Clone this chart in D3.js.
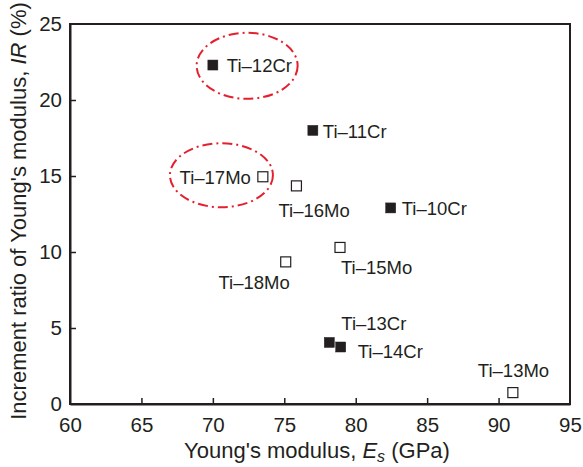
<!DOCTYPE html>
<html><head><meta charset="utf-8">
<script src="https://cdn.jsdelivr.net/npm/d3@7/dist/d3.min.js"></script>
<style>
html,body{margin:0;padding:0;background:#fff;}
svg{display:block;font-family:"Liberation Sans",Arial,Helvetica,sans-serif;}
</style></head>
<body>
<svg id="chart" width="583" height="467"></svg>
<script>
// ---- data ----
const alloys    = ["Ti–12Cr","Ti–11Cr","Ti–10Cr","Ti–13Cr","Ti–14Cr","Ti–17Mo","Ti–16Mo","Ti–18Mo","Ti–15Mo","Ti–13Mo"];
const alloyType = ["Cr","Cr","Cr","Cr","Cr","Mo","Mo","Mo","Mo","Mo"];
const modulusEs = [70.0, 77.0, 82.45, 78.15, 78.95, 73.5, 75.85, 75.1, 78.9, 91.0];
const incrementIR = [22.3, 18.0, 12.9, 4.05, 3.75, 14.95, 14.35, 9.35, 10.3, 0.75];
const xTicks = [60,65,70,75,80,85,90,95];
const yTicks = [0,5,10,15,20,25];
const highlightX = [72.4, 70.6];
const highlightY = [22.25, 15.05];

// ---- layout (label offsets in px relative to marker) ----
const labelLayout = {
  "Ti–12Cr":{dx:14,dy:7,anchor:"start"},
  "Ti–11Cr":{dx:10,dy:8,anchor:"start"},
  "Ti–10Cr":{dx:11,dy:7,anchor:"start"},
  "Ti–13Cr":{dx:12,dy:-12,anchor:"start"},
  "Ti–14Cr":{dx:17,dy:11,anchor:"start"},
  "Ti–17Mo":{dx:-12,dy:7,anchor:"end"},
  "Ti–16Mo":{dx:-18,dy:31,anchor:"start"},
  "Ti–18Mo":{dx:4,dy:27,anchor:"end"},
  "Ti–15Mo":{dx:1,dy:27,anchor:"start"},
  "Ti–13Mo":{dx:-35,dy:-16,anchor:"start"}
};
const ink = "#231f20";
const svg = d3.select("#chart");
const L = 70, R = 570, T = 24, B = 404;
const x = d3.scaleLinear().domain([60,95]).range([L,R]);
const y = d3.scaleLinear().domain([0,25]).range([B,T]);

// frame
svg.append("rect").attr("x",L).attr("y",T).attr("width",R-L).attr("height",B-T)
  .attr("fill","none").attr("stroke",ink).attr("stroke-width",2);

// axes with inward ticks
const xAxis = svg.append("g").attr("transform",`translate(0,${B})`)
  .call(d3.axisBottom(x).tickValues(xTicks).tickSizeInner(-6).tickSizeOuter(0).tickPadding(13).tickFormat(d3.format("d")));
const yAxis = svg.append("g").attr("transform",`translate(${L},0)`)
  .call(d3.axisLeft(y).tickValues(yTicks).tickSizeInner(-6).tickSizeOuter(0).tickPadding(8).tickFormat(d3.format("d")));
[xAxis,yAxis].forEach(a=>{
  a.select(".domain").attr("stroke",ink).attr("stroke-width",2);
  a.selectAll(".tick line").attr("stroke",ink).attr("stroke-width",1.5);
  a.selectAll(".tick text").attr("fill",ink).style("font-size","20.5px")
    .style("font-family",'"Liberation Sans",Arial,sans-serif');
});
xAxis.selectAll(".tick text").attr("dy","0.71em");
xAxis.selectAll(".tick").filter(d=>d===60||d===95).select("line").remove();
yAxis.selectAll(".tick").filter(d=>d===0||d===25).select("line").remove();

// axis titles
const xt = svg.append("text").attr("x",317).attr("y",458).attr("text-anchor","middle")
  .attr("fill",ink).style("font-size","22px");
xt.append("tspan").text("Young's modulus, ");
xt.append("tspan").attr("font-style","italic").text("E");
xt.append("tspan").attr("font-style","italic").attr("dy",4).style("font-size","16px").text("s");
xt.append("tspan").attr("dy",-4).text(" (GPa)");

const yt = svg.append("text").attr("transform","translate(26,211) rotate(-90)").attr("text-anchor","middle")
  .attr("fill",ink).style("font-size","22px");
yt.append("tspan").text("Increment ratio of Young's modulus, ");
yt.append("tspan").attr("font-style","italic").text("IR");
yt.append("tspan").text(" (%)");

// highlight ellipses
svg.selectAll("ellipse.hl").data(highlightX).join("ellipse").attr("class","hl")
  .attr("cx",d=>x(d)).attr("cy",(d,i)=>y(highlightY[i]))
  .attr("rx",(d,i)=>i===0?50.5:51.5).attr("ry",(d,i)=>i===0?33:32)
  .attr("fill","none").attr("stroke","#e5202e").attr("stroke-width",2)
  .attr("stroke-dasharray","10,4,2,4");

// markers
const s = 10;
svg.selectAll("rect.pt").data(alloys).join("rect").attr("class","pt")
  .attr("x",(d,i)=>x(modulusEs[i])-s/2).attr("y",(d,i)=>y(incrementIR[i])-s/2)
  .attr("width",s).attr("height",s)
  .attr("fill",(d,i)=>alloyType[i]==="Cr"?ink:"#fff")
  .attr("stroke",ink).attr("stroke-width",(d,i)=>alloyType[i]==="Cr"?0.5:1.2);

// labels
svg.selectAll("text.lbl").data(alloys).join("text").attr("class","lbl")
  .attr("x",(d,i)=>x(modulusEs[i])+labelLayout[d].dx)
  .attr("y",(d,i)=>y(incrementIR[i])+labelLayout[d].dy)
  .attr("text-anchor",d=>labelLayout[d].anchor)
  .attr("fill",ink).style("font-size","18.5px").text(d=>d);
</script>
</body></html>
